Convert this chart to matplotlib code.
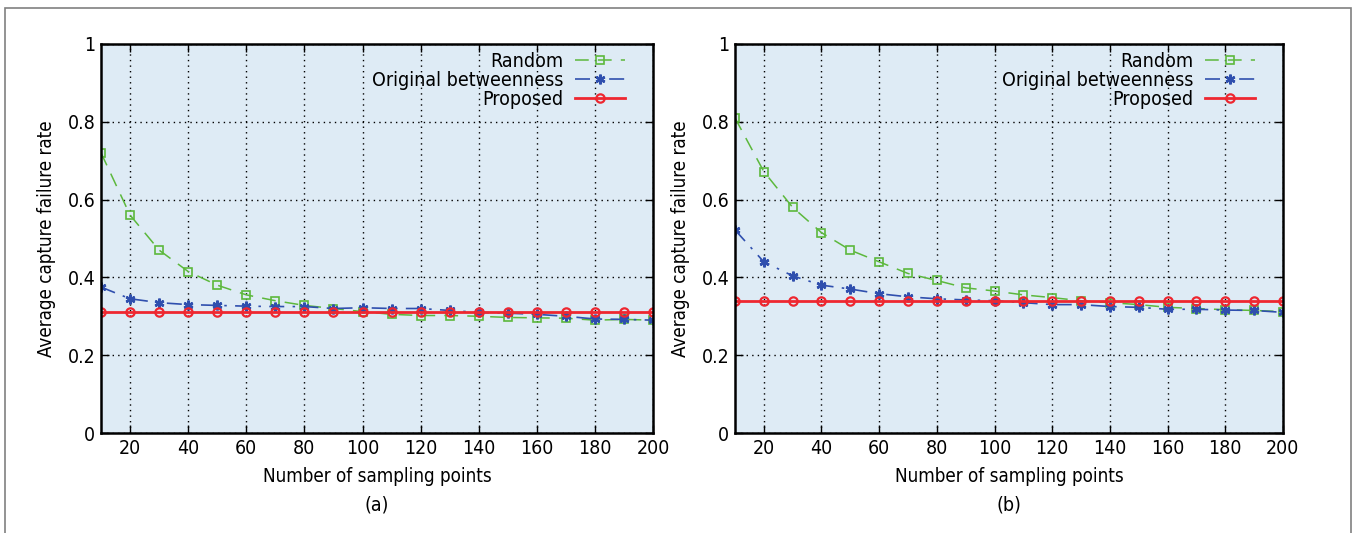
import matplotlib
matplotlib.use('Agg')
import matplotlib.pyplot as plt
from matplotlib.patches import Rectangle

plt.rcParams['font.family'] = ['DejaVu Sans']
plt.rcParams['font.stretch'] = 'condensed'

x = [10, 20, 30, 40, 50, 60, 70, 80, 90, 100, 110, 120, 130, 140, 150, 160, 170, 180, 190, 200]

random_a = [0.72, 0.56, 0.47, 0.415, 0.38, 0.355, 0.34, 0.328, 0.32, 0.312,
            0.305, 0.302, 0.302, 0.300, 0.297, 0.296, 0.295, 0.290, 0.292, 0.290]
betw_a = [0.375, 0.345, 0.335, 0.330, 0.328, 0.326, 0.325, 0.325, 0.320, 0.322,
          0.320, 0.320, 0.315, 0.310, 0.308, 0.305, 0.300, 0.293, 0.292, 0.290]
prop_a = [0.31] * 20

random_b = [0.81, 0.672, 0.58, 0.515, 0.47, 0.44, 0.41, 0.392, 0.373, 0.365,
            0.355, 0.348, 0.340, 0.335, 0.330, 0.323, 0.320, 0.317, 0.315, 0.312]
betw_b = [0.522, 0.44, 0.404, 0.38, 0.37, 0.358, 0.35, 0.345, 0.342, 0.340,
          0.335, 0.330, 0.330, 0.325, 0.323, 0.318, 0.318, 0.316, 0.315, 0.310]
prop_b = [0.34] * 20

xticks = [20, 40, 60, 80, 100, 120, 140, 160, 180, 200]
yticks = [0, 0.2, 0.4, 0.6, 0.8, 1]
ytick_labels = ['0', '0.2', '0.4', '0.6', '0.8', '1']

green = '#5cb83c'
blue = '#2f4fae'
red = '#ee2730'

fig = plt.figure(figsize=(13.58, 5.33), dpi=100)
fig.patches.append(Rectangle((0.004, -0.01), 0.991, 0.995, transform=fig.transFigure,
                             fill=False, edgecolor='#808080', linewidth=1.2))

positions = [[0.0744, 0.1876, 0.4065, 0.730], [0.5412, 0.1876, 0.4035, 0.730]]
panels = [(random_a, betw_a, prop_a, '(a)'), (random_b, betw_b, prop_b, '(b)')]

for pos, (r, b, p, tag) in zip(positions, panels):
    ax = fig.add_axes(pos)
    ax.set_facecolor('#deebf5')
    ax.plot(x, r, color=green, linestyle=(0, (9, 6)), linewidth=1.1,
            marker='s', markersize=6, markerfacecolor='none', markeredgecolor=green,
            markeredgewidth=1.2, label='Random')
    ax.plot(x, b, color=blue, linestyle=(0, (9, 5, 1.5, 5)), linewidth=1.2,
            marker=(6, 2, 0), markersize=7, markeredgecolor=blue, markeredgewidth=1.8,
            label='Original betweenness')
    ax.plot(x, p, color=red, linestyle='-', linewidth=2,
            marker='o', markersize=6, markerfacecolor='none', markeredgecolor=red,
            markeredgewidth=1.6, label='Proposed')
    ax.set_xlim(10, 200)
    ax.set_ylim(0, 1)
    ax.set_xticks(xticks)
    ax.set_yticks(yticks)
    ax.set_yticklabels(ytick_labels)
    ax.grid(True, color='black', linestyle=(0, (1, 3)), linewidth=1)
    ax.tick_params(direction='in', top=True, right=True, length=6, width=1,
                   labelsize=14, pad=4)
    for s in ax.spines.values():
        s.set_linewidth(1.8)
    ax.set_xlabel('Number of sampling points', fontsize=13.5, labelpad=7)
    ax.set_ylabel('Average capture failure rate', fontsize=13.5, labelpad=8)
    ax.text(0.5, -0.16, tag, transform=ax.transAxes, ha='center', va='top', fontsize=14)
    ax.legend(loc='upper right', frameon=False, markerfirst=False, fontsize=14,
              handlelength=2.6, handletextpad=0.6, labelspacing=0.0,
              borderaxespad=0.0, borderpad=0.4, bbox_to_anchor=(0.964, 1.0))

fig.savefig('out.png', dpi=100)
